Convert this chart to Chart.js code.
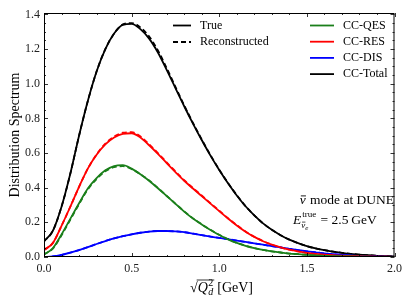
<!DOCTYPE html>
<html>
<head>
<meta charset="utf-8">
<script src="https://cdn.jsdelivr.net/npm/chart.js@4"></script>
<style>
  html, body { margin: 0; padding: 0; background: #fff; }
  #wrap { width: 407px; height: 305px; }
</style>
</head>
<body>
<div id="wrap"><canvas id="chart" width="407" height="305"></canvas></div>
<script>
// sqrt(Q_d^2) in GeV
const Q_VALUES = [0.00, 0.05, 0.10, 0.15, 0.20, 0.25, 0.30, 0.35, 0.40, 0.45,
                  0.50, 0.55, 0.60, 0.65, 0.70, 0.75, 0.80, 0.85, 0.90, 0.95,
                  1.00, 1.05, 1.10, 1.15, 1.20, 1.25, 1.30, 1.35, 1.40, 1.45,
                  1.50, 1.55, 1.60, 1.65, 1.70, 1.75, 1.80, 1.85, 1.90, 1.95, 2.00];

// True spectra
const QES_TRUE   = [0.015, 0.05, 0.13, 0.22, 0.31, 0.395, 0.455, 0.50, 0.525, 0.53,
                    0.51, 0.478, 0.44, 0.397, 0.352, 0.307, 0.262, 0.222, 0.188, 0.156,
                    0.127, 0.102, 0.081, 0.064, 0.051, 0.041, 0.032, 0.026, 0.02, 0.016,
                    0.012, 0.009, 0.007, 0.005, 0.004, 0.003, 0.002, 0.0015, 0.001, 0.001, 0.0005];
const RES_TRUE   = [0.04, 0.08, 0.18, 0.29, 0.405, 0.51, 0.59, 0.65, 0.69, 0.711,
                    0.714, 0.69, 0.645, 0.595, 0.542, 0.49, 0.44, 0.395, 0.352, 0.308,
                    0.265, 0.222, 0.182, 0.146, 0.116, 0.091, 0.071, 0.055, 0.042, 0.032,
                    0.024, 0.018, 0.014, 0.011, 0.008, 0.006, 0.005, 0.003, 0.002, 0.0015, 0.001];
const DIS_TRUE   = [0.0, 0.003, 0.012, 0.025, 0.04, 0.057, 0.075, 0.092, 0.108, 0.12,
                    0.131, 0.14, 0.147, 0.15, 0.15, 0.148, 0.143, 0.135, 0.126, 0.118,
                    0.11, 0.103, 0.095, 0.087, 0.079, 0.071, 0.063, 0.055, 0.047, 0.04,
                    0.033, 0.027, 0.021, 0.016, 0.012, 0.009, 0.006, 0.004, 0.003, 0.002, 0.001];
const TOTAL_TRUE = [0.09, 0.15, 0.29, 0.48, 0.70, 0.90, 1.07, 1.20, 1.29, 1.34,
                    1.345, 1.315, 1.26, 1.18, 1.08, 0.975, 0.87, 0.77, 0.675, 0.585,
                    0.502, 0.425, 0.355, 0.293, 0.24, 0.194, 0.157, 0.126, 0.10, 0.08,
                    0.063, 0.05, 0.04, 0.031, 0.024, 0.018, 0.014, 0.01, 0.007, 0.005, 0.003];

// Reconstructed spectra
const QES_RECO   = [0.015, 0.048, 0.125, 0.215, 0.305, 0.39, 0.45, 0.495, 0.518, 0.524,
                    0.507, 0.478, 0.441, 0.398, 0.353, 0.308, 0.263, 0.223, 0.189, 0.157,
                    0.128, 0.103, 0.082, 0.065, 0.052, 0.041, 0.032, 0.026, 0.02, 0.016,
                    0.012, 0.009, 0.007, 0.005, 0.004, 0.003, 0.002, 0.0015, 0.001, 0.001, 0.0005];
const RES_RECO   = [0.04, 0.08, 0.18, 0.29, 0.405, 0.51, 0.592, 0.654, 0.695, 0.717,
                    0.72, 0.696, 0.65, 0.6, 0.546, 0.494, 0.443, 0.398, 0.355, 0.31,
                    0.267, 0.224, 0.184, 0.147, 0.117, 0.092, 0.071, 0.055, 0.042, 0.032,
                    0.024, 0.018, 0.014, 0.011, 0.008, 0.006, 0.005, 0.003, 0.002, 0.0015, 0.001];
const DIS_RECO   = [0.0, 0.003, 0.012, 0.025, 0.04, 0.057, 0.075, 0.092, 0.108, 0.12,
                    0.131, 0.14, 0.147, 0.15, 0.15, 0.148, 0.143, 0.135, 0.126, 0.118,
                    0.11, 0.103, 0.095, 0.087, 0.079, 0.071, 0.063, 0.055, 0.047, 0.04,
                    0.033, 0.027, 0.021, 0.016, 0.012, 0.009, 0.006, 0.004, 0.003, 0.002, 0.001];
const TOTAL_RECO = [0.09, 0.15, 0.29, 0.48, 0.70, 0.90, 1.07, 1.20, 1.29, 1.342,
                    1.35, 1.325, 1.272, 1.192, 1.09, 0.982, 0.875, 0.774, 0.678, 0.588,
                    0.504, 0.427, 0.357, 0.294, 0.24, 0.194, 0.157, 0.126, 0.10, 0.08,
                    0.063, 0.05, 0.04, 0.031, 0.024, 0.018, 0.014, 0.01, 0.007, 0.005, 0.003];

const SERIES_NAMES  = ['CC-QES', 'CC-RES', 'CC-DIS', 'CC-Total'];
const SERIES_COLORS = ['#1a7f1a', '#ff0000', '#0000ff', '#000000'];
const STYLE_NAMES   = ['True', 'Reconstructed'];

const X_TICK_VALUES = [0, 0.5, 1.0, 1.5, 2.0];
const X_TICK_LABELS = ['0.0', '0.5', '1.0', '1.5', '2.0'];
const Y_TICK_VALUES = [0, 0.2, 0.4, 0.6, 0.8, 1.0, 1.2, 1.4];
const Y_TICK_LABELS = ['0.0', '0.2', '0.4', '0.6', '0.8', '1.0', '1.2', '1.4'];

const SERIF = '"Liberation Serif", "DejaVu Serif", serif';

const pts = (ys) => Q_VALUES.map((x, i) => ({ x, y: ys[i] }));

const trueSets = [QES_TRUE, RES_TRUE, DIS_TRUE, TOTAL_TRUE];
const recoSets = [QES_RECO, RES_RECO, DIS_RECO, TOTAL_RECO];

const datasets = [];
trueSets.forEach((ys, i) => datasets.push({
  label: SERIES_NAMES[i] + ' true', data: pts(ys),
  borderColor: SERIES_COLORS[i], borderWidth: 1.8,
}));
recoSets.forEach((ys, i) => datasets.push({
  label: SERIES_NAMES[i] + ' reco', data: pts(ys),
  borderColor: SERIES_COLORS[i], borderWidth: 1.8, borderDash: [5, 3],
}));

// nu with a bar on top, returns width
function nuBar(ctx, x, y, size) {
  ctx.font = 'italic ' + size + 'px ' + SERIF;
  ctx.fillText('\u03BD', x, y);
  const w = ctx.measureText('\u03BD').width;
  ctx.lineWidth = size > 10 ? 0.9 : 0.7;
  ctx.beginPath();
  ctx.moveTo(x + w * 0.2, y - size * 0.6);
  ctx.lineTo(x + w * 1.05, y - size * 0.6);
  ctx.stroke();
  return w;
}

// frame, inward ticks, legends, axis titles and annotation
const decor = {
  id: 'decor',
  afterDraw(chart) {
    const { ctx, chartArea: a, scales } = chart;
    const xs = scales.x, ys = scales.y;
    ctx.save();
    ctx.strokeStyle = '#000';
    ctx.fillStyle = '#000';

    // frame
    ctx.lineWidth = 1;
    ctx.strokeRect(a.left + 0.5, a.top + 0.5, a.right - a.left - 1, a.bottom - a.top - 1);

    // ticks
    ctx.lineWidth = 0.8;
    ctx.beginPath();
    for (let k = 0; k <= 20; k++) {
      const px = Math.round(xs.getPixelForValue(k * 0.1)) + 0.5;
      const len = k % 5 === 0 ? 4 : 2;
      ctx.moveTo(px, a.bottom); ctx.lineTo(px, a.bottom - len);
      ctx.moveTo(px, a.top);    ctx.lineTo(px, a.top + len);
    }
    for (let k = 0; k <= 28; k++) {
      const py = Math.round(ys.getPixelForValue(k * 0.05)) + 0.5;
      const len = k % 4 === 0 ? 4 : 2;
      ctx.moveTo(a.left, py);  ctx.lineTo(a.left + len, py);
      ctx.moveTo(a.right, py); ctx.lineTo(a.right - len, py);
    }
    ctx.stroke();

    // legends
    ctx.lineWidth = 1.8;
    ctx.font = '12px ' + SERIF;
    ctx.textBaseline = 'middle';
    STYLE_NAMES.forEach((name, i) => {
      const y = 25.5 + i * 16.5;
      ctx.setLineDash(i ? [5, 3] : []);
      ctx.strokeStyle = '#000';
      ctx.beginPath(); ctx.moveTo(173, y); ctx.lineTo(191, y); ctx.stroke();
      ctx.fillText(name, 200, y);
    });
    ctx.setLineDash([]);
    SERIES_NAMES.forEach((name, i) => {
      const y = 25.5 + i * 16.2;
      ctx.strokeStyle = SERIES_COLORS[i];
      ctx.beginPath(); ctx.moveTo(310, y); ctx.lineTo(334, y); ctx.stroke();
      ctx.fillText(name, 343, y);
    });

    ctx.textBaseline = 'alphabetic';
    ctx.strokeStyle = '#000';

    // y title
    ctx.save();
    ctx.translate(19, (a.top + a.bottom) / 2);
    ctx.rotate(-Math.PI / 2);
    ctx.font = '14px ' + SERIF;
    ctx.textAlign = 'center';
    ctx.fillText('Distribution Spectrum', 0, 0);
    ctx.restore();

    // x title: sqrt(Q_d^2) [GeV]
    const R14 = '14px ' + SERIF, I14 = 'italic 14px ' + SERIF;
    const R10 = '10px ' + SERIF, I10 = 'italic 10px ' + SERIF;
    ctx.font = R14;
    const wRoot = ctx.measureText('\u221A').width;
    ctx.font = I14; const wQ = ctx.measureText('Q').width;
    ctx.font = R10; const wS = ctx.measureText('2').width;
    ctx.font = R14; const wG = ctx.measureText(' [GeV]').width;
    const total = wRoot + wQ + wS + 1 + wG;
    const x0 = 221.5 - total / 2, base = 291.5;
    ctx.font = R14; ctx.fillText('\u221A', x0, base);
    ctx.font = I14; ctx.fillText('Q', x0 + wRoot, base);
    ctx.font = R10; ctx.fillText('2', x0 + wRoot + wQ + 0.5, base - 6);
    ctx.font = I10; ctx.fillText('d', x0 + wRoot + wQ + 0.5, base + 3);
    ctx.lineWidth = 0.8;
    ctx.beginPath();
    ctx.moveTo(x0 + wRoot - 1, base - 11.5);
    ctx.lineTo(x0 + wRoot + wQ + wS + 1.5, base - 11.5);
    ctx.stroke();
    ctx.font = R14; ctx.fillText(' [GeV]', x0 + wRoot + wQ + wS + 1, base);

    // annotation line 1
    const A = 13.5;
    ctx.font = A + 'px ' + SERIF;
    const wRest = ctx.measureText(' mode at DUNE').width;
    ctx.font = 'italic ' + A + 'px ' + SERIF;
    const wNu = ctx.measureText('\u03BD').width;
    const l1 = 393 - wRest - wNu;
    nuBar(ctx, l1, 204, A);
    ctx.font = A + 'px ' + SERIF;
    ctx.fillText(' mode at DUNE', l1 + wNu + 1, 204);

    // annotation line 2
    const ex = 293, eb = 224;
    ctx.font = 'italic ' + A + 'px ' + SERIF;
    ctx.fillText('E', ex, eb);
    const wE = ctx.measureText('E').width;
    ctx.font = '9px ' + SERIF;
    ctx.fillText('true', ex + wE + 1, eb - 7);
    const wT = ctx.measureText('true').width;
    const wN = nuBar(ctx, ex + wE, eb + 3.5, 9);
    ctx.font = 'italic 7px ' + SERIF;
    ctx.fillText('e', ex + wE + wN, eb + 5.5);
    ctx.font = A + 'px ' + SERIF;
    ctx.fillText(' = 2.5\u2009GeV', ex + wE + wT + 2, eb);

    ctx.restore();
  },
};

new Chart(document.getElementById('chart'), {
  type: 'line',
  data: { datasets },
  options: {
    responsive: false,
    animation: false,
    layout: { padding: { left: 0, right: 8, top: 13, bottom: 0 } },
    elements: { point: { radius: 0 }, line: { cubicInterpolationMode: 'monotone', fill: false } },
    plugins: { legend: { display: false }, tooltip: { enabled: false } },
    scales: {
      x: {
        type: 'linear', min: 0, max: 2,
        grid: { display: false, drawTicks: false },
        border: { display: false },
        afterFit: (s) => { s.height = 48; },
        afterBuildTicks: (s) => { s.ticks = X_TICK_VALUES.map((v) => ({ value: v })); },
        ticks: {
          padding: 5, maxRotation: 0, autoSkip: false,
          color: '#222', font: { family: SERIF, size: 12 },
          callback: (v, i) => X_TICK_LABELS[i],
        },
      },
      y: {
        type: 'linear', min: 0, max: 1.408,
        grid: { display: false, drawTicks: false },
        border: { display: false },
        afterFit: (s) => { s.width = 44; },
        afterBuildTicks: (s) => { s.ticks = Y_TICK_VALUES.map((v) => ({ value: v })); },
        ticks: {
          padding: 4, autoSkip: false,
          color: '#222', font: { family: SERIF, size: 12 },
          callback: (v, i) => Y_TICK_LABELS[i],
        },
      },
    },
  },
  plugins: [decor],
});
</script>
</body>
</html>
